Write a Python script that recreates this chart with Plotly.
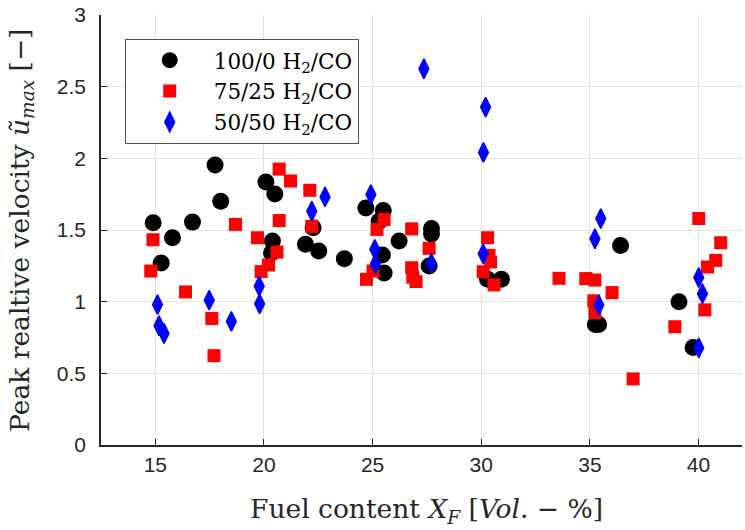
import plotly.graph_objects as go

# Fuel content X_F [Vol.-%] and peak relative velocity for each H2/CO mixture
x_100_0 = [14.9, 15.27, 15.79, 16.71, 17.75, 18.01, 20.09, 20.5, 20.39, 20.35,
           22.26, 21.91, 22.52, 23.7, 24.69, 25.49, 25.3, 25.45, 25.53, 26.22,
           27.71, 27.71, 27.6, 30.29, 30.93, 35.25, 35.4, 36.41, 39.1, 39.75]
u_100_0 = [1.55, 1.27, 1.446, 1.555, 1.953, 1.70, 1.835, 1.751, 1.423, 1.341,
           1.515, 1.40, 1.353, 1.30, 1.654, 1.636, 1.561, 1.325, 1.20, 1.423,
           1.511, 1.473, 1.249, 1.156, 1.156, 0.84, 0.84, 1.392, 0.999, 0.681]

x_75_25 = [14.89, 14.79, 16.39, 17.6, 17.7, 18.69, 19.7, 19.87, 20.21, 20.6,
           20.7, 20.7, 21.22, 22.11, 22.2, 24.72, 25.02, 25.2, 25.53, 26.8,
           26.8, 26.85, 27.0, 27.6, 30.29, 30.36, 30.43, 30.09, 30.59, 33.58,
           34.81, 35.23, 35.18, 35.23, 36.02, 36.99, 38.91, 40.01, 40.29, 40.41,
           40.79, 41.02]
u_75_25 = [1.432, 1.214, 1.068, 0.883, 0.623, 1.539, 1.446, 1.21, 1.256, 1.346,
           1.566, 1.925, 1.842, 1.777, 1.525, 1.156, 1.214, 1.504, 1.573, 1.508,
           1.237, 1.17, 1.14, 1.372, 1.446, 1.323, 1.277, 1.209, 1.117, 1.163,
           1.161, 1.151, 1.006, 0.924, 1.063, 0.461, 0.825, 1.58, 0.943, 1.242,
           1.288, 1.411]

x_50_50 = [15.1, 15.17, 15.4, 17.48, 18.5, 19.78, 19.8, 22.2, 22.81, 24.92,
           25.1, 25.13, 27.36, 27.7, 30.1, 30.2, 30.09, 35.23, 35.5, 35.41,
           40.01, 40.18, 40.01]
u_50_50 = [0.98, 0.832, 0.778, 1.01, 0.862, 1.108, 0.985, 1.631, 1.731, 1.747,
           1.365, 1.265, 2.625, 1.267, 2.041, 2.358, 1.334, 1.439, 1.58, 0.976,
           1.168, 1.056, 0.677]

x_ticks = [15, 20, 25, 30, 35, 40]
y_ticks = [0, 0.5, 1, 1.5, 2, 2.5, 3]
y_tick_text = ["0", "0.5", "1", "1.5", "2", "2.5", "3"]

x_title = "Fuel content <i>X<sub>F</sub></i> [<i>Vol.</i> − %]"
y_title = "Peak realtive velocity <i>ũ<sub>max</sub></i> [−]"

SERIF = "DejaVu Serif, Liberation Serif, serif"
SANS = "Liberation Sans, Arial, sans-serif"
AXIS_COLOR = "#262626"

fig = go.Figure()
fig.add_trace(go.Scatter(
    x=x_100_0, y=u_100_0, mode="markers", name="100/0 H<sub>2</sub>/CO",
    marker=dict(symbol="circle", size=17, color="black", line=dict(width=0)),
))
fig.add_trace(go.Scatter(
    x=x_75_25, y=u_75_25, mode="markers", name="75/25 H<sub>2</sub>/CO",
    marker=dict(symbol="square", size=13, color="#ff0000", line=dict(width=0)),
))
fig.add_trace(go.Scatter(
    x=x_50_50, y=u_50_50, mode="markers", name="50/50 H<sub>2</sub>/CO",
    marker=dict(symbol="diamond-tall", size=14, color="#0000ff",
                line=dict(width=1.5, color="#0000ff")),
))

fig.update_layout(
    width=745, height=530,
    margin=dict(l=101, r=3, t=13, b=85),
    paper_bgcolor="white", plot_bgcolor="white",
    showlegend=True,
    legend=dict(
        x=0.037, y=0.945, xanchor="left", yanchor="top",
        bgcolor="white", bordercolor="#555555", borderwidth=1,
        font=dict(family=SERIF, size=21.5, color="black"),
        itemwidth=78, tracegroupgap=0,
    ),
    xaxis=dict(
        range=[12.5, 42], tickvals=x_ticks,
        showgrid=True, gridcolor="#e3e3e3", gridwidth=1,
        showline=True, linecolor=AXIS_COLOR, linewidth=1.5,
        ticks="inside", ticklen=6, tickcolor=AXIS_COLOR,
        tickfont=dict(family=SANS, size=21, color=AXIS_COLOR),
        zeroline=False,
    ),
    yaxis=dict(
        range=[0, 3], tickvals=y_ticks, ticktext=y_tick_text,
        showgrid=True, gridcolor="#e3e3e3", gridwidth=1,
        showline=True, linecolor=AXIS_COLOR, linewidth=1.5,
        ticks="inside", ticklen=6, tickcolor=AXIS_COLOR,
        tickfont=dict(family=SANS, size=21, color=AXIS_COLOR),
        ticklabelstandoff=9,
        zeroline=False,
    ),
    annotations=[
        dict(text=x_title, xref="paper", yref="paper", x=0.508, y=-0.152,
             xanchor="center", yanchor="middle", showarrow=False,
             font=dict(family=SERIF, size=26.5, color=AXIS_COLOR)),
        dict(text=y_title, xref="paper", yref="paper", x=-0.125, y=0.5,
             xanchor="center", yanchor="middle", showarrow=False, textangle=-90,
             font=dict(family=SERIF, size=26.5, color=AXIS_COLOR)),
    ],
)

fig.write_html("out.html")
